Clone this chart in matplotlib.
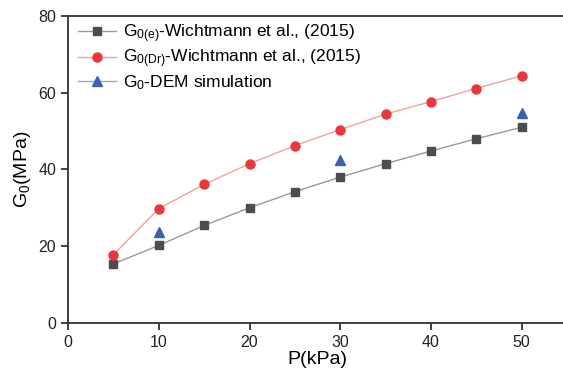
import matplotlib
matplotlib.use("Agg")
import matplotlib.pyplot as plt
from matplotlib.lines import Line2D

plt.rcParams['font.family'] = ['Liberation Sans', 'DejaVu Sans']
plt.rcParams['mathtext.fontset'] = 'custom'
plt.rcParams['mathtext.rm'] = 'Liberation Sans'
plt.rcParams['mathtext.it'] = 'Liberation Sans'

p_kpa = [5, 10, 15, 20, 25, 30, 35, 40, 45, 50]
g0_e = [15.4, 20.2, 25.4, 30.0, 34.2, 38.0, 41.5, 44.8, 48.0, 51.0]
g0_dr = [17.8, 29.8, 36.1, 41.5, 46.2, 50.4, 54.4, 57.7, 61.1, 64.4]
p_dem = [10, 30, 50]
g0_dem = [23.6, 42.5, 54.7]

fig = plt.figure(figsize=(5.63, 3.72), dpi=100)
ax = fig.add_axes([0.121, 0.132, 0.886, 0.825])

ax.plot(p_kpa, g0_e, color='#999999', lw=1, marker='s', ms=6,
        mfc='#4d4d4d', mec='#4d4d4d')
ax.plot(p_kpa, g0_dr, color='#f4a0a0', lw=1, marker='o', ms=6.5,
        mfc='#e8383d', mec='#e8383d')
ax.plot(p_dem, g0_dem, ls='none', marker='^', ms=7,
        mfc='#3a62b0', mec='#3a62b0')

handles = [
    Line2D([], [], color='#999999', lw=1, marker='s', ms=6, mfc='#4d4d4d', mec='#4d4d4d'),
    Line2D([], [], color='#f4a0a0', lw=1, marker='o', ms=6.5, mfc='#e8383d', mec='#e8383d'),
    Line2D([], [], color='#8aa8e0', lw=1, marker='^', ms=7, mfc='#3a62b0', mec='#3a62b0'),
]
labels = [r'G$_\mathrm{0(e)}$-Wichtmann et al., (2015)',
          r'G$_\mathrm{0(Dr)}$-Wichtmann et al., (2015)',
          r'G$_\mathrm{0}$-DEM simulation']
ax.legend(handles, labels, loc='upper left', frameon=False, fontsize=12.5,
          handlelength=2.2, handletextpad=0.4, labelspacing=0.15,
          borderaxespad=0.0, borderpad=0.2, bbox_to_anchor=(0.012, 0.99))

ax.set_xlim(0, 55)
ax.set_ylim(0, 80)
ax.set_xticks([0, 10, 20, 30, 40, 50])
ax.set_yticks([0, 20, 40, 60, 80])
ax.tick_params(direction='out', length=5, width=1.2, labelsize=11.5,
               colors='#222222')
for s in ax.spines.values():
    s.set_linewidth(1.3)
    s.set_color('#333333')

ax.set_xlabel('P(kPa)', fontsize=14, labelpad=1)
ax.set_ylabel(r'G$_\mathrm{0}$(MPa)', fontsize=14, labelpad=4)

fig.savefig('out.png', dpi=100)
